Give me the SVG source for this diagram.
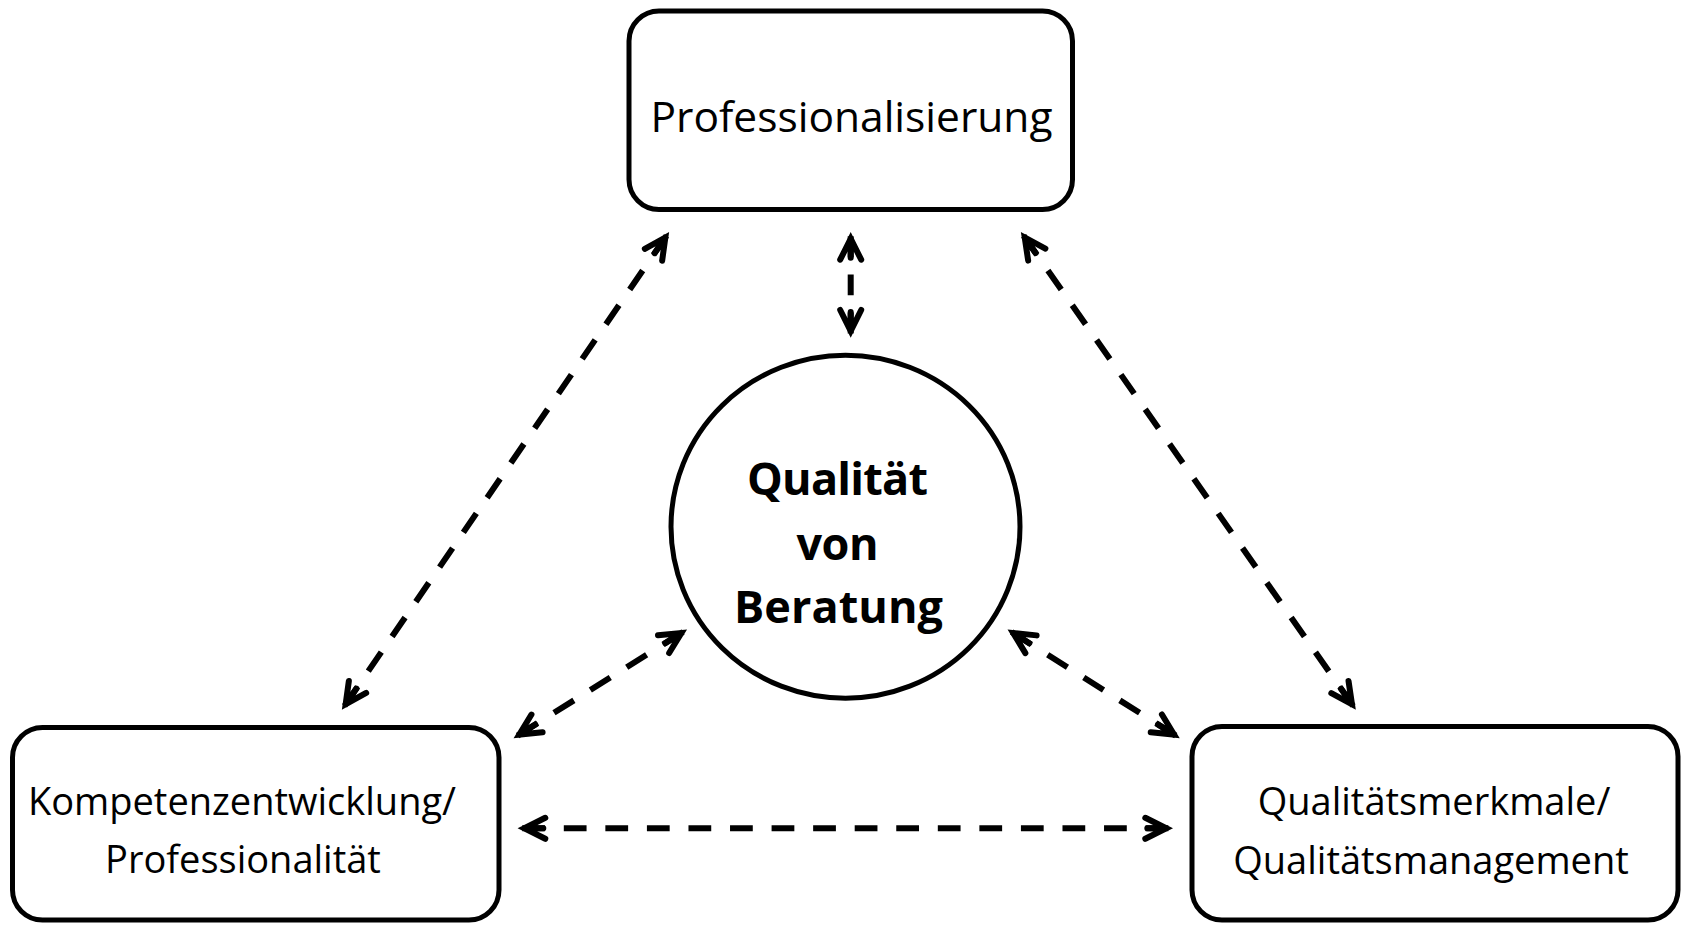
<svg xmlns="http://www.w3.org/2000/svg" width="1683" height="925" viewBox="0 0 1683 925">
  <style>
    .box { fill: #ffffff; stroke: #000000; stroke-width: 5; }
    .lbl { font-family: "Open Sans", "Noto Sans", "Liberation Sans", sans-serif; fill: #000000; text-anchor: middle; }
    .core { font-family: "Open Sans", "Noto Sans", "Liberation Sans", sans-serif; font-weight: bold; font-size: 45px; fill: #000000; text-anchor: middle; }
    .link { fill: none; stroke: #000000; stroke-width: 6; stroke-linecap: butt; stroke-dasharray: 23 19; stroke-dashoffset: 37; marker-start: url(#head); marker-end: url(#head); }
  </style>
  <defs>
    <!-- open chevron arrowhead with a short solid shaft -->
    <marker id="head" markerUnits="userSpaceOnUse" orient="auto-start-reverse" refX="0" refY="0" markerWidth="60" markerHeight="60" viewBox="-40 -20 60 40" overflow="visible">
      <path d="M -28 -10.5 L -7 0 L -28 10.5 M -7 0 L -26 0" fill="none" stroke="#000000" stroke-width="6" stroke-linecap="round" stroke-linejoin="miter" stroke-dasharray="none"/>
    </marker>
  </defs>
  <rect width="1683" height="925" fill="#ffffff"/>

  <!-- connectors -->
  <g id="connectors">
    <line class="link" x1="850.7" y1="231.7" x2="850.7" y2="338" pathLength="117"/>
    <line class="link" x1="669.3" y1="231.7" x2="341.7" y2="710" pathLength="579"/>
    <line class="link" x1="1020.7" y1="231.7" x2="1356" y2="710" pathLength="579"/>
    <line class="link" x1="687.3" y1="629.3" x2="513.3" y2="738.3" pathLength="201"/>
    <line class="link" x1="1007.3" y1="629.3" x2="1180" y2="738.3" pathLength="201"/>
    <line class="link" x1="517.3" y1="828.3" x2="1173.3" y2="828.3" pathLength="663"/>
  </g>

  <g id="node-professionalisierung">
    <rect class="box" x="629" y="11" width="443.5" height="198.5" rx="30" ry="30"/>
    <text class="lbl" x="851.5" y="132" font-size="42.5">Professionalisierung</text>
  </g>

  <g id="node-qualitaet">
    <ellipse class="box" cx="845.5" cy="526.7" rx="174.5" ry="171.5"/>
    <text class="core" x="837.5" y="495" textLength="181" lengthAdjust="spacing">Qualität</text>
    <text class="core" x="837.5" y="560" textLength="82" lengthAdjust="spacing">von</text>
    <text class="core" x="838.5" y="623" textLength="209" lengthAdjust="spacing">Beratung</text>
  </g>

  <g id="node-kompetenz">
    <rect class="box" x="12.5" y="727.5" width="486.5" height="192.5" rx="30" ry="30"/>
    <text class="lbl" x="242" y="814.5" font-size="38">Kompetenzentwicklung/</text>
    <text class="lbl" x="243" y="873" font-size="38">Professionalität</text>
  </g>

  <g id="node-qualitaetsmerkmale">
    <rect class="box" x="1192" y="726.5" width="486" height="193.5" rx="30" ry="30"/>
    <text class="lbl" x="1434" y="815" font-size="38">Qualitätsmerkmale/</text>
    <text class="lbl" x="1431" y="873.5" font-size="38">Qualitätsmanagement</text>
  </g>
</svg>
